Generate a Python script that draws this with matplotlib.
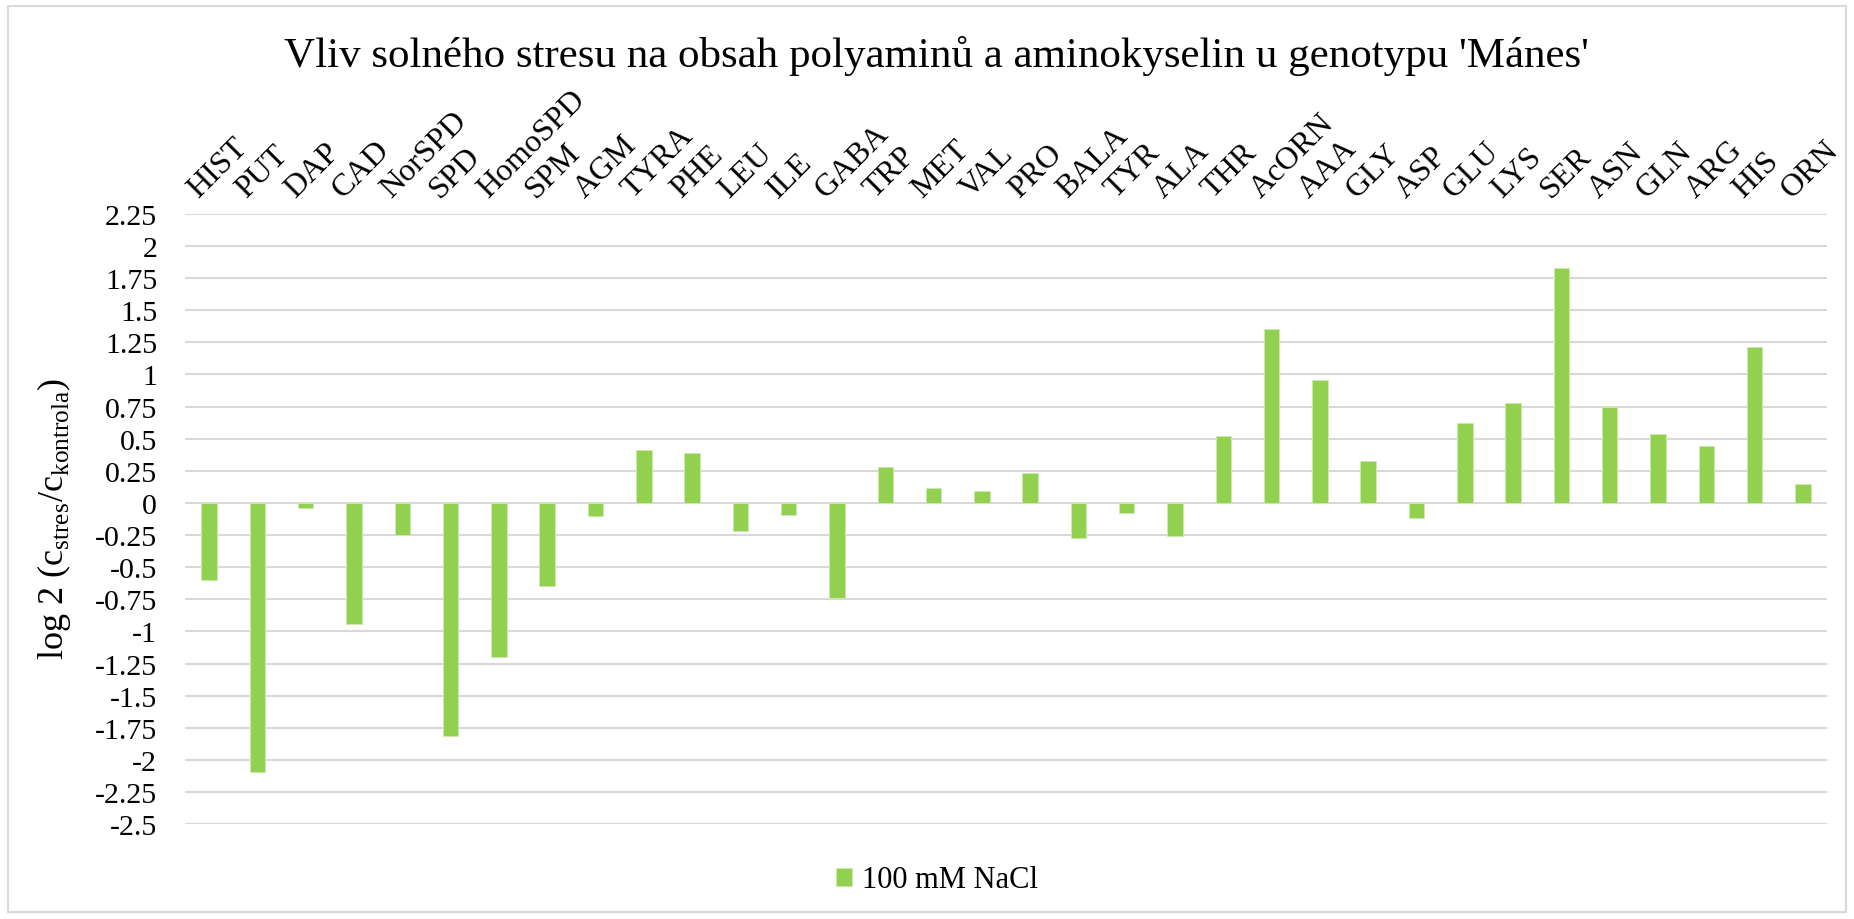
import matplotlib
matplotlib.use("Agg")
import matplotlib.pyplot as plt
from matplotlib.patches import Patch, Rectangle
from matplotlib.transforms import ScaledTranslation

categories = ["HIST", "PUT", "DAP", "CAD", "NorSPD", "SPD", "HomoSPD", "SPM", "AGM",
              "TYRA", "PHE", "LEU", "ILE", "GABA", "TRP", "MET", "VAL", "PRO", "BALA",
              "TYR", "ALA", "THR", "AcORN", "AAA", "GLY", "ASP", "GLU", "LYS", "SER",
              "ASN", "GLN", "ARG", "HIS", "ORN"]
values_nacl = [-0.60, -2.09, -0.04, -0.94, -0.25, -1.81, -1.20, -0.65, -0.10,
               0.41, 0.39, -0.22, -0.09, -0.74, 0.28, 0.12, 0.09, 0.23, -0.27,
               -0.08, -0.26, 0.52, 1.35, 0.96, 0.33, -0.12, 0.62, 0.78, 1.83,
               0.75, 0.54, 0.44, 1.21, 0.15]
y_ticks = [2.25, 2, 1.75, 1.5, 1.25, 1, 0.75, 0.5, 0.25, 0, -0.25, -0.5, -0.75,
           -1, -1.25, -1.5, -1.75, -2, -2.25, -2.5]
y_tick_labels = ["2.25", "2", "1.75", "1.5", "1.25", "1", "0.75", "0.5", "0.25", "0",
                 "-0.25", "-0.5", "-0.75", "-1", "-1.25", "-1.5", "-1.75", "-2",
                 "-2.25", "-2.5"]
series_name = "100 mM NaCl"
title = "Vliv solného stresu na obsah polyaminů a aminokyselin u genotypu 'Mánes'"

plt.rcParams['font.family'] = ['Liberation Serif', 'DejaVu Serif']
plt.rcParams['mathtext.fontset'] = 'custom'
plt.rcParams['mathtext.rm'] = 'Liberation Serif'

W, H = 1854, 920
fig = plt.figure(figsize=(W / 100, H / 100), dpi=100)
fig.patch.set_facecolor('white')

# outer chart border
fig.add_artist(Rectangle((8 / W, 7 / H), 1 - 16 / W, 1 - 14 / H, transform=fig.transFigure,
                         fill=False, edgecolor='#d9d9d9', linewidth=1.5))

left, right = 185 / W, 1827 / W
top, bottom = 1 - 214.7 / H, 1 - 825.3 / H
ax = fig.add_axes([left, bottom, right - left, top - bottom])

x = list(range(len(categories)))
ax.bar(x, values_nacl, width=0.32, color='#92D050', edgecolor='#cdeaae', linewidth=0.7,
       zorder=3)

ax.set_xlim(-0.5, len(categories) - 0.5)
ax.set_ylim(-2.5, 2.25)
ax.set_yticks(y_ticks)
ax.set_yticklabels(y_tick_labels, fontsize=21.5)
ax.yaxis.grid(True, color='#d9d9d9', linewidth=1.5, zorder=0)
ax.set_axisbelow(True)
for s in ax.spines.values():
    s.set_visible(False)
ax.tick_params(axis='y', length=0, pad=20)

ax.xaxis.tick_top()
ax.set_xticks(x)
ax.set_xticklabels(categories, fontsize=23)
ax.tick_params(axis='x', length=0, pad=11)
off = ScaledTranslation(-11 / 100, 0, fig.dpi_scale_trans)
for lab in ax.get_xticklabels():
    lab.set_rotation(45)
    lab.set_rotation_mode('anchor')
    lab.set_ha('left')
    lab.set_va('baseline')
    lab.set_transform(lab.get_transform() + off)

fig.text(936 / W, 1 - 66.7 / H, title, ha='center', va='baseline', fontsize=31)

fig.text(54 / W, 1 - 519 / H,
         r'log 2 (c$_{\mathregular{stres}}$/c$_{\mathregular{kontrola}}$)',
         rotation=90, ha='center', va='center', fontsize=26)

handle = Patch(facecolor='#92D050', edgecolor='#cdeaae', linewidth=0.7)
fig.legend([handle], [series_name], loc='center', bbox_to_anchor=(937 / W, 1 - 881 / H),
           frameon=False, fontsize=22, handlelength=0.52, handleheight=0.52,
           handletextpad=0.35)

fig.savefig('out.png', dpi=100, facecolor='white')
